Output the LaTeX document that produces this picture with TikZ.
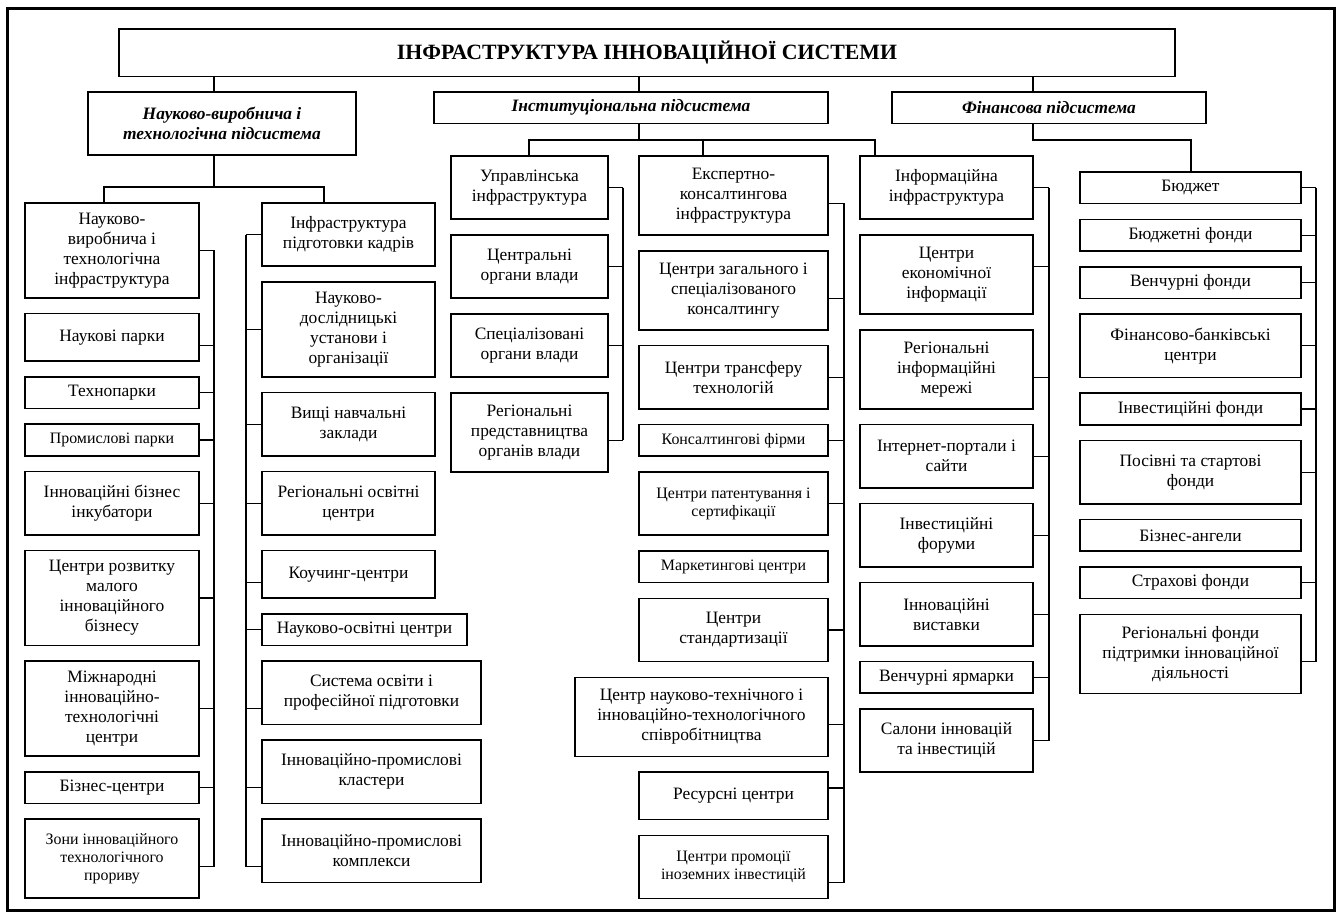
\documentclass[tikz,border=0pt]{standalone}
\usepackage{fontspec}
\setmainfont{Liberation Serif}
\usetikzlibrary{positioning}

\newcommand{\normsize}{\fontsize{17.4}{20}\selectfont}
\newcommand{\smallsize}{\fontsize{15.9}{18.3}\selectfont}

\begin{document}
\begin{tikzpicture}[
        x=1pt, y=-1pt,
        node distance=15.8pt,
        font=\normsize,
        box/.style={
                draw,
                line width=1.5pt,
                align=center,
                inner sep=2pt,
                outer sep=0pt
            },
        hu/.style={minimum height=#1*15.8pt},
        colA/.style={box, minimum width=174pt},
        colB/.style={box, minimum width=173pt},
        colC/.style={box, minimum width=157pt},
        colD/.style={box, minimum width=189pt},
        colE/.style={box, minimum width=173pt},
        colF/.style={box, minimum width=221pt},
        sm/.style={font=\smallsize},
        head/.style={box, font=\fontsize{21.8}{25}\selectfont\bfseries},
        sub/.style={box, font=\normsize\bfseries\itshape},
        link/.style={line width=1.3pt},
    ]

    \useasboundingbox (0,0) rectangle (1338,913);
    \draw[line width=3pt] (7,8) rectangle (1334,910);

    \node[head, minimum width=1056pt, hu=3, anchor=north west] (title) at (119,29) {ІНФРАСТРУКТУРА ІННОВАЦІЙНОЇ СИСТЕМИ};

    \node[sub, minimum width=268pt, hu=4, anchor=north west] (prod) at (88,92) {Науково-виробнича і\\технологічна підсистема};
    \node[sub, minimum width=394pt, hu=2, anchor=north west] (inst) at (434,92) {Інституціональна підсистема};
    \node[sub, minimum width=314pt, hu=2, anchor=north west] (fin) at (892,92) {Фінансова підсистема};

    % науково-виробнича і технологічна інфраструктура
    \node[colA, hu=6, anchor=north] (a1) at (112,203) {Науково-\\виробнича і\\технологічна\\інфраструктура};
    \node[colA, hu=3, below=of a1] (a2) {Наукові парки};
    \node[colA, hu=2, below=of a2] (a3) {Технопарки};
    \node[colA, hu=2, sm, below=of a3] (a4) {Промислові парки};
    \node[colA, hu=4, below=of a4] (a5) {Інноваційні бізнес\\інкубатори};
    \node[colA, hu=6, below=of a5] (a6) {Центри розвитку\\малого\\інноваційного\\бізнесу};
    \node[colA, hu=6, below=of a6] (a7) {Міжнародні\\інноваційно-\\технологічні\\центри};
    \node[colA, hu=2, below=of a7] (a8) {Бізнес-центри};
    \node[colA, hu=5, sm, below=of a8] (a9) {Зони інноваційного\\технологічного\\прориву};

    % інфраструктура підготовки кадрів
    \node[colB, hu=4, anchor=north west] (b1) at (262,203) {Інфраструктура\\підготовки кадрів};
    \node[colB, hu=6, below=of b1] (b2) {Науково-\\дослідницькі\\установи і\\організації};
    \node[colB, hu=4, below=of b2] (b3) {Вищі навчальні\\заклади};
    \node[colB, hu=4, below=of b3] (b4) {Регіональні освітні\\центри};
    \node[colB, hu=3, below=of b4] (b5) {Коучинг-центри};
    \node[box, minimum width=205pt, hu=2, below=of b5.south west, anchor=north west] (b6) {Науково-освітні центри};
    \node[box, minimum width=219pt, hu=4, below=of b6.south west, anchor=north west] (b7) {Система освіти і\\професійної підготовки};
    \node[box, minimum width=219pt, hu=4, below=of b7.south west, anchor=north west] (b8) {Інноваційно-промислові\\кластери};
    \node[box, minimum width=219pt, hu=4, below=of b8.south west, anchor=north west] (b9) {Інноваційно-промислові\\комплекси};

    % управлінська інфраструктура
    \node[colC, hu=4, anchor=north west] (c1) at (451,156) {Управлінська\\інфраструктура};
    \node[colC, hu=4, below=of c1] (c2) {Центральні\\органи влади};
    \node[colC, hu=4, below=of c2] (c3) {Спеціалізовані\\органи влади};
    \node[colC, hu=5, below=of c3] (c4) {Регіональні\\представництва\\органів влади};

    % експертно-консалтингова інфраструктура
    \node[colD, hu=5, anchor=north west] (d1) at (639,156) {Експертно-\\консалтингова\\інфраструктура};
    \node[colD, hu=5, below=of d1] (d2) {Центри загального і\\спеціалізованого\\консалтингу};
    \node[colD, hu=4, below=of d2] (d3) {Центри трансферу\\технологій};
    \node[colD, hu=2, sm, below=of d3] (d4) {Консалтингові фірми};
    \node[colD, hu=4, sm, below=of d4] (d5) {Центри патентування і\\сертифікації};
    \node[colD, hu=2, sm, below=of d5] (d6) {Маркетингові центри};
    \node[colD, hu=4, below=of d6] (d7) {Центри\\стандартизації};
    \node[box, minimum width=253pt, hu=5, below=of d7.south east, anchor=north east] (d8) {Центр науково-технічного і\\інноваційно-технологічного\\співробітництва};
    \node[colD, hu=3, below=of d8.south east, anchor=north east] (d9) {Ресурсні центри};
    \node[colD, hu=4, sm, below=of d9] (d10) {Центри промоції\\іноземних інвестицій};

    % інформаційна інфраструктура
    \node[colE, hu=4, anchor=north west] (e1) at (860,156) {Інформаційна\\інфраструктура};
    \node[colE, hu=5, below=of e1] (e2) {Центри\\економічної\\інформації};
    \node[colE, hu=5, below=of e2] (e3) {Регіональні\\інформаційні\\мережі};
    \node[colE, hu=4, below=of e3] (e4) {Інтернет-портали і\\сайти};
    \node[colE, hu=4, below=of e4] (e5) {Інвестиційні\\форуми};
    \node[colE, hu=4, below=of e5] (e6) {Інноваційні\\виставки};
    \node[colE, hu=2, below=of e6] (e7) {Венчурні ярмарки};
    \node[colE, hu=4, below=of e7] (e8) {Салони інновацій\\та інвестицій};

    % фінансова підсистема
    \node[colF, hu=2, anchor=north west] (f1) at (1080,172) {Бюджет};
    \node[colF, hu=2, below=of f1] (f2) {Бюджетні фонди};
    \node[colF, hu=2, below=of f2] (f3) {Венчурні фонди};
    \node[colF, hu=4, below=of f3] (f4) {Фінансово-банківські\\центри};
    \node[colF, hu=2, below=of f4] (f5) {Інвестиційні фонди};
    \node[colF, hu=4, below=of f5] (f6) {Посівні та стартові\\фонди};
    \node[colF, hu=2, below=of f6] (f7) {Бізнес-ангели};
    \node[colF, hu=2, below=of f7] (f8) {Страхові фонди};
    \node[colF, hu=5, below=of f8] (f9) {Регіональні фонди\\підтримки інноваційної\\діяльності};

    % зв'язки верхнього рівня
    \coordinate (jA) at (214,187);
    \coordinate (jA1) at (104,187);
    \coordinate (jA2) at (324,187);
    \coordinate (jC) at (639,140);
    \coordinate (jC1) at (529,140);
    \coordinate (jC2) at (703,140);
    \coordinate (jC3) at (875,140);
    \coordinate (jF) at (1033,140);
    \coordinate (jF2) at (1191,140);

    \draw[link] (title.south -| jA) -- (prod.north -| jA);
    \draw[link] (title.south -| jC) -- (inst.north -| jC);
    \draw[link] (title.south -| jF) -- (fin.north -| jF);

    \draw[link] (prod.south -| jA) -- (jA);
    \draw[link] (jA1 |- a1.north) -- (jA1) -- (jA2) -- (jA2 |- b1.north);

    \draw[link] (inst.south -| jC) -- (jC);
    \draw[link] (jC1 |- c1.north) -- (jC1) -- (jC3) -- (jC3 |- e1.north);
    \draw[link] (jC2) -- (jC2 |- d1.north);

    \draw[link] (fin.south -| jF) -- (jF) -- (jF2) -- (jF2 |- f1.north);

    % шини колонок
    \coordinate (busA) at (214,0);
    \coordinate (busB) at (246,0);
    \coordinate (busC) at (623,0);
    \coordinate (busD) at (844,0);
    \coordinate (busE) at (1049,0);
    \coordinate (busF) at (1316,0);

    \draw[link] (a1.east -| busA) -- ([yshift=-7.9pt]a9.east -| busA);
    \draw[link] (b1.west -| busB) -- ([yshift=-15.8pt]b9.west -| busB);
    \draw[link] (c1.east -| busC) -- ([yshift=-7.9pt]c4.east -| busC);
    \draw[link] ([yshift=-7.9pt]d1.east -| busD) -- ([yshift=-15.8pt]d10.east -| busD);
    \draw[link] (e1.east -| busE) -- (e8.east -| busE);
    \draw[link] (f1.east -| busF) -- ([yshift=-7.9pt]f9.east -| busF);

    \foreach \n/\s in {a1/0pt,a2/-7.9pt,a3/0pt,a4/0pt,a5/0pt,a6/0pt,a7/0pt,a8/0pt,a9/-7.9pt}
        \draw[link] ([yshift=\s]\n.east) -- ([yshift=\s]\n.east -| busA);
    \foreach \n/\s in {b1/0pt,b2/0pt,b3/0pt,b4/0pt,b5/-7.9pt,b6/0pt,b7/-15.8pt,b8/-15.8pt,b9/-15.8pt}
        \draw[link] ([yshift=\s]\n.west) -- ([yshift=\s]\n.west -| busB);
    \foreach \n/\s in {c1/0pt,c2/0pt,c3/0pt,c4/-7.9pt}
        \draw[link] ([yshift=\s]\n.east) -- ([yshift=\s]\n.east -| busC);
    \foreach \n/\s in {d1/-7.9pt,d2/-7.9pt,d3/0pt,d4/0pt,d5/0pt,d7/0pt,d8/-7.9pt,d9/7.9pt,d10/-15.8pt}
        \draw[link] ([yshift=\s]\n.east) -- ([yshift=\s]\n.east -| busD);
    \foreach \n/\s in {e1/0pt,e2/7.9pt,e3/-7.9pt,e4/0pt,e5/0pt,e6/0pt,e7/0pt,e8/0pt}
        \draw[link] ([yshift=\s]\n.east) -- ([yshift=\s]\n.east -| busE);
    \foreach \n/\s in {f1/0pt,f2/0pt,f3/0pt,f4/0pt,f5/0pt,f6/0pt,f8/0pt,f9/-7.9pt}
        \draw[link] ([yshift=\s]\n.east) -- ([yshift=\s]\n.east -| busF);

\end{tikzpicture}
\end{document}
